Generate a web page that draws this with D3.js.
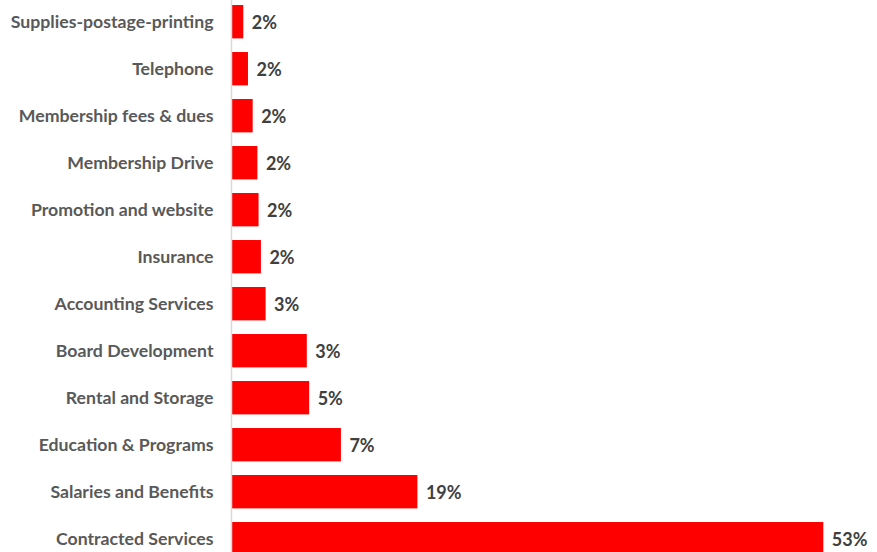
<!DOCTYPE html>
<html>
<head>
<meta charset="utf-8">
<script src="https://cdn.jsdelivr.net/npm/d3@7"></script>
<style>
  html, body { margin: 0; padding: 0; background: #fff; }
  svg { display: block; }
</style>
</head>
<body>
<svg id="chart" width="877" height="552"></svg>
<script>
const categories = [
  "Supplies-postage-printing",
  "Telephone",
  "Membership fees & dues",
  "Membership Drive",
  "Promotion and website",
  "Insurance",
  "Accounting Services",
  "Board Development",
  "Rental and Storage",
  "Education & Programs",
  "Salaries and Benefits",
  "Contracted Services"
];
// relative bar lengths
const values = [1.0, 1.4, 1.8, 2.2, 2.3, 2.5, 2.9, 6.4, 6.6, 9.3, 15.8, 50.3];
const percentLabels = ["2%", "2%", "2%", "2%", "2%", "2%", "3%", "3%", "5%", "7%", "19%", "53%"];

const svg = d3.select("#chart");
const x0 = 231.5;

const x = d3.scaleLinear().domain([0, 50.3]).range([x0, 823.3]);
const y = d3.scaleBand().domain(categories)
  .range([-1.8, 562.2]).paddingInner(0.29).paddingOuter(0.145);

const data = categories.map((c, i) => ({ c, v: values[i], l: percentLabels[i] }));

svg.selectAll("rect.bar").data(data).join("rect")
  .attr("class", "bar")
  .attr("x", x(0))
  .attr("y", d => y(d.c))
  .attr("width", d => x(d.v) - x(0))
  .attr("height", y.bandwidth())
  .attr("fill", "#ff0000");

// axis line
const yAxis = d3.axisLeft(y).tickSize(0).tickPadding(18);
const ga = svg.append("g").attr("transform", `translate(${x0},0)`).call(yAxis);
ga.select(".domain").attr("stroke", "#d9d9d9").attr("stroke-width", 1.5)
  .attr("d", `M0,0V552`);
ga.selectAll(".tick text")
  .attr("fill", "#595959")
  .attr("dy", "0.38em")
  .style("font-family", "Lato, 'Open Sans', sans-serif")
  .style("font-weight", "bold")
  .style("font-size", "17.7px");

svg.selectAll("text.val").data(data).join("text")
  .attr("class", "val")
  .attr("x", d => x(d.v) + 8.5)
  .attr("y", d => y(d.c) + y.bandwidth() / 2)
  .attr("dy", "0.38em")
  .attr("fill", "#404040")
  .style("font-family", "Lato, 'Open Sans', sans-serif")
  .style("font-weight", "bold")
  .style("font-size", "18px")
  .text(d => d.l);
</script>
</body>
</html>
